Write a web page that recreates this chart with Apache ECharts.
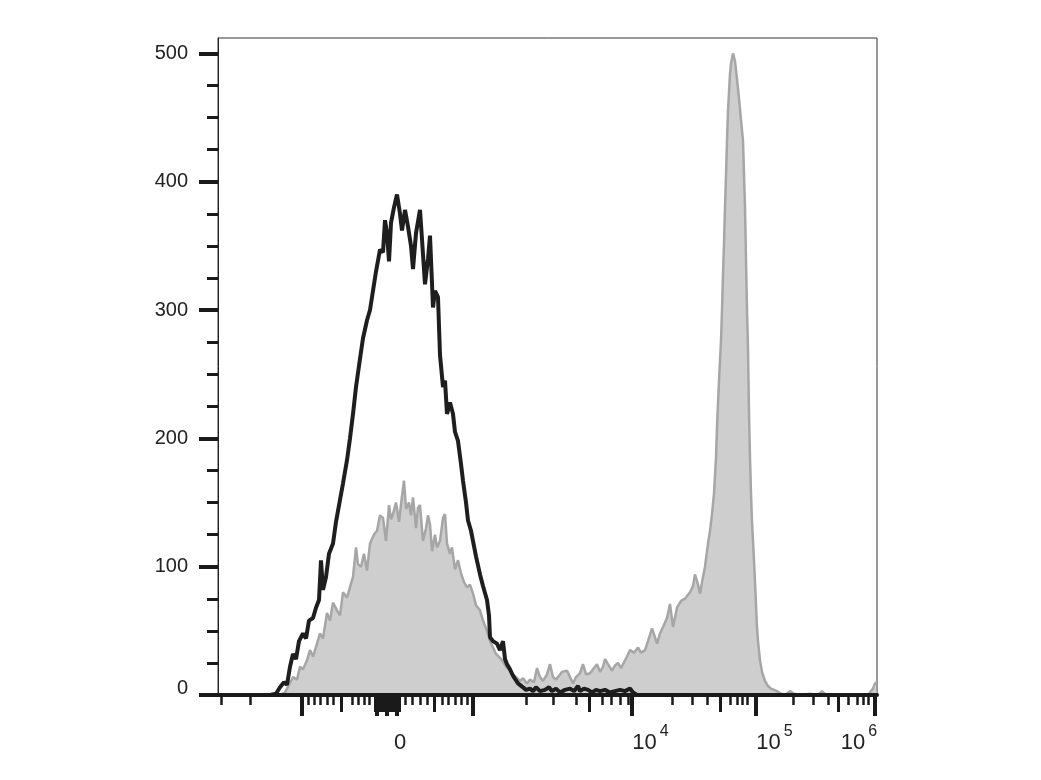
<!DOCTYPE html>
<html><head><meta charset="utf-8">
<script src="https://cdn.jsdelivr.net/npm/echarts@6/dist/echarts.min.js"></script>
<style>html,body{margin:0;padding:0;background:#fff}#c{width:1041px;height:780px}</style>
</head><body><div id="c"></div>
<script>
// Histogram data: x in display channel units (biexponential scale), y = count
const controlX = [0,32,52,58,62,66,69,72,75,78,81,85,88,91,95,98,101,103,105,108,111,115,118,122,125,129,132,135,138,142,145,149,152,155,158,162,165,167,169,171,173,176,179,182,184,187,190,193,195,198,202,204,207,210,212,215,217,220,222,225,227,229,232,235,237,240,243,245,248,250,253,255,258,262,265,269,271,272,275,279,282,285,287,289,292,295,297,300,302,305,308,312,315,318,322,327,331,334,338,342,347,352,356,360,362,366,370,374,378,382,387,392,397,402,407,412,415,419,659];
const controlY = [0,0,0,1,6,10,8,22,32,28,42,48,44,58,60,68,74,105,82,92,110,118,135,152,165,183,200,219,240,262,278,292,300,315,330,347,345,370,360,338,368,380,390,375,362,378,365,350,332,360,378,355,320,340,358,302,315,310,265,240,245,219,228,219,205,198,180,167,150,136,128,120,108,94,85,74,62,45,42,40,35,42,28,24,20,15,14,9,8,6,4,5,3,6,3,4,6,3,5,2,4,5,3,7,3,5,4,2,4,3,4,2,3,4,3,5,2,0,0];

const stainedX = [0,62,67,71,75,79,82,85,89,92,95,99,102,105,109,112,115,119,122,125,129,132,135,138,140,143,146,149,152,156,159,162,165,168,171,173,175,178,181,184,186,188,191,193,195,198,200,202,205,208,210,212,214,217,219,222,225,227,229,232,234,237,240,243,246,249,252,255,258,262,265,269,272,275,278,282,285,288,292,295,298,302,305,309,312,316,319,322,325,329,332,335,338,340,344,349,352,355,358,362,365,368,372,375,379,382,385,387,390,394,397,400,403,405,409,412,416,420,423,427,430,434,437,439,442,445,449,452,455,459,462,464,467,469,472,475,477,480,482,485,487,490,492,494,496,498,499,501,502,503,504,505,506,507,508,509,510,512,513,515,517,519,521,523,525,527,529,530,531,532,533,534,536,537,538,539,540,542,544,547,550,553,556,559,563,567,572,576,582,592,600,604,608,650,652,655,657,659];
const stainedY = [0,0,2,8,14,12,22,20,27,35,30,40,48,44,64,58,72,66,62,80,76,84,92,115,102,100,110,97,118,125,128,140,138,120,148,137,141,150,135,155,167,145,150,140,154,130,146,148,120,130,140,133,112,125,115,120,138,141,118,110,115,98,105,95,88,84,86,79,70,66,58,50,42,37,32,29,26,22,19,16,14,11,13,9,12,10,21,14,11,16,24,14,12,11,18,19,14,9,14,17,24,16,17,20,24,18,22,28,24,19,23,25,21,24,30,35,33,37,33,35,42,52,45,40,48,53,60,71,53,68,72,74,75,76,80,85,94,86,79,92,100,118,128,141,157,185,209,245,261,276,300,328,352,380,405,432,455,484,492,500,494,480,465,448,432,380,300,270,220,185,157,135,105,88,70,53,42,27,18,11,7,5,4,3,1,0,3,1,0,1,0,3,0,0,1,5,9,10];

// Axis ticks and labels
const yTickValues = [0,100,200,300,400,500];
const yMinorTicks = [25,50,75,125,150,175,225,250,275,325,350,375,425,450,475];
const xMajorTicks = [84,159,169,179,255,414,538,657];
const xMediumTicks = [123,157,159,161,163,165,167,169,171,173,175,177,179,181,216,371,502,620];
const xMinorTicks = [3,32,90,96,102,109,115,134,140,146,151,187,194,202,209,224,230,237,243,249,308,335,358,384,393,402,410,454,474,489,512,519,524,529,575,595,610,630,639,645,650];
const xLabelPos = [182,432.5,556.5,641];
const xLabels = ['0','10^4','10^5','10^6'];

const FONT = 'Liberation Sans, Arial, sans-serif';
const chart = echarts.init(document.getElementById('c'));

function fmtLabel(v){
  let best = 0, bd = Infinity;
  xLabelPos.forEach((p,i)=>{ const d=Math.abs(p-v); if(d<bd){bd=d;best=i;} });
  const t = xLabels[best];
  if (t.indexOf('^')>=0){ const [b,e]=t.split('^'); return '{b|'+b+'}{s|'+e+'}'; }
  return '{b|'+t+'}';
}
function fmtY(v){ return v === 0 ? '{z|0}' : '{n|' + v + '}'; }

const baseX = {type:'value', min:0, max:659, position:'bottom', gridIndex:0,
  splitLine:{show:false}, axisLabel:{show:false}, axisLine:{show:false}};

chart.setOption({
  animation:false,
  backgroundColor:'#fff',
  grid:{left:218, right:164, top:38, bottom:85, show:true, borderColor:'#333', borderWidth:1},
  xAxis:[
    Object.assign({}, baseX, {z:10,
      axisLine:{show:true, onZero:false, lineStyle:{color:'#1a1a1a', width:4}},
      axisTick:{show:true, customValues:xMajorTicks, length:21, lineStyle:{color:'#1a1a1a', width:4}}}),
    Object.assign({}, baseX, {z:10,
      axisTick:{show:true, customValues:xMediumTicks, length:17, lineStyle:{color:'#1a1a1a', width:3}}}),
    Object.assign({}, baseX, {z:10,
      axisTick:{show:true, customValues:xMinorTicks, length:10, lineStyle:{color:'#1a1a1a', width:2.5}}}),
    Object.assign({}, baseX, {z:10,
      axisTick:{show:false},
      axisLabel:{show:true, customValues:xLabelPos, margin:29, formatter:fmtLabel,
        rich:{
          b:{fontSize:22, lineHeight:22, fontFamily:FONT, color:'#222', padding:[16,0,0,0]},
          s:{fontSize:16, lineHeight:16, fontFamily:FONT, color:'#222', verticalAlign:'top', padding:[0,0,0,3]}
        }}})
  ],
  yAxis:[
    {type:'value', min:0, max:512, position:'left', z:10,
      splitLine:{show:false},
      axisLine:{show:true, lineStyle:{color:'#222', width:1}},
      axisTick:{show:true, customValues:yTickValues, length:19, lineStyle:{color:'#1a1a1a', width:4}},
      axisLabel:{show:true, customValues:yTickValues, margin:30, formatter:fmtY,
        rich:{
          n:{fontSize:20, fontFamily:FONT, color:'#222'},
          z:{fontSize:20, fontFamily:FONT, color:'#222', padding:[0,0,14,0]}
        }}},
    {type:'value', min:0, max:512, position:'left', z:10,
      splitLine:{show:false}, axisLine:{show:false}, axisLabel:{show:false},
      axisTick:{show:true, customValues:yMinorTicks, length:11, lineStyle:{color:'#1a1a1a', width:3}}}
  ],
  series:[
    {name:'Stained', type:'line', xAxisIndex:0, yAxisIndex:0, showSymbol:false, z:2,
      data: stainedX.map((x,i)=>[x, stainedY[i]]),
      lineStyle:{color:'#a6a6a6', width:2.5},
      areaStyle:{color:'#cecece', opacity:1}},
    {name:'Control', type:'line', xAxisIndex:0, yAxisIndex:0, showSymbol:false, z:3,
      data: controlX.map((x,i)=>[x, controlY[i]]),
      lineStyle:{color:'#1e1e1e', width:4}}
  ]
});
</script>
</body></html>
